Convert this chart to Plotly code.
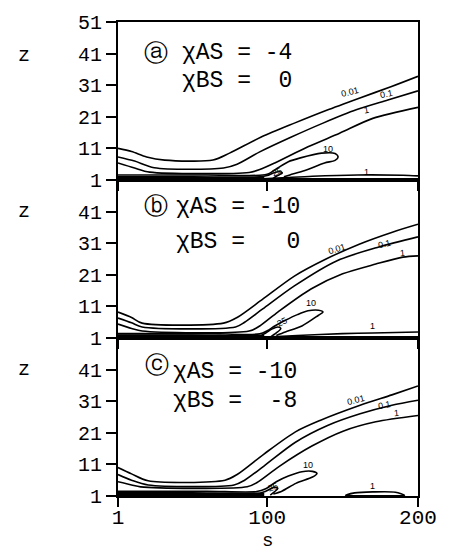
import plotly.graph_objects as go
from plotly.subplots import make_subplots

# ---------------- data (s, z) ----------------
panel_letters = ["ⓐ", "ⓑ", "ⓒ"]
chi_as = ["-4", "-10", "-10"]
chi_bs = ["0", "0", "-8"]
y_ticks_top = [1, 11, 21, 31, 41, 51]
y_ticks = [1, 11, 21, 31, 41]
x_ticks = [1, 100, 200]

# panel a
a_c001_s = [1, 10, 20, 32, 64, 75, 96, 118, 139, 161, 182, 200]
a_c001_z = [11, 10, 8.3, 7.3, 7.3, 9.5, 14.6, 19, 23, 26.9, 30.5, 33.8]
a_c01_s = [1, 12, 25, 71, 80, 95, 116, 137, 159, 180, 200]
a_c01_z = [8.3, 7, 4.9, 4.8, 6, 9.9, 14.6, 19, 23.2, 26.3, 29.2]
a_c1_s = [1, 12, 22, 88, 95, 105, 127, 148, 170, 200]
a_c1_z = [6.4, 4.8, 3.5, 3.4, 4.3, 6.4, 11.5, 15.8, 20.5, 24]
a_c10_s = [1, 60, 95, 101, 107, 114, 122, 136, 145, 147, 145, 138, 125, 115, 111]
a_c10_z = [2.6, 2.6, 2.5, 3, 4.8, 6.8, 8, 9.5, 9.4, 8.3, 7.2, 6.4, 4, 2.6, 2]
a_c25_s = [1, 50, 95, 100, 104, 108, 110, 106, 103]
a_c25_z = [2.0, 2.0, 2.0, 2.4, 3.2, 3.6, 3.2, 2.2, 1.2]
a_c1b_s = [97, 110, 130, 160, 190, 200]
a_c1b_z = [1.4, 1.7, 2.2, 2.6, 2.5, 2.3]
a_band_s = [1, 50, 98]
a_band_z = [1.45, 1.4, 1.3]

# panel b
b_c001_s = [1, 10, 17, 71, 80, 97, 118, 139, 161, 183, 200]
b_c001_z = [9.2, 7.5, 5.7, 5.7, 7.5, 13.3, 20.6, 26, 30.7, 34.5, 37]
b_c01_s = [1, 10, 17, 79, 85, 97, 118, 146, 174, 200]
b_c01_z = [7.3, 5.8, 4.5, 4.5, 6, 10.2, 17.5, 25.4, 29.8, 33]
b_c1_s = [1, 10, 17, 88, 95, 107, 129, 150, 172, 190, 200]
b_c1_z = [5.4, 4, 3.2, 3.2, 4.8, 9.2, 16.5, 21.3, 24.4, 26.6, 27]
b_c10_s = [1, 60, 95, 100, 105, 112, 120, 127, 134, 137, 134, 123, 112, 106]
b_c10_z = [2.4, 2.4, 2.3, 3.3, 4.8, 6.6, 8.4, 9.6, 9.8, 9.2, 8.2, 4.8, 2.9, 1.8]
b_c25_s = [1, 50, 96, 99, 103, 107, 109, 106, 102]
b_c25_z = [1.9, 1.9, 1.9, 2.6, 3.8, 4.5, 4.0, 2.6, 1.3]
b_c1b_s = [100, 120, 150, 170, 200]
b_c1b_z = [1.3, 1.8, 2.4, 2.6, 2.9]
b_band_s = [1, 50, 98]
b_band_z = [1.4, 1.4, 1.3]

# panel c
c_c001_s = [1, 10, 21, 72, 80, 97.6, 118.7, 135, 161.6, 182.7, 200]
c_c001_z = [10, 8, 5.8, 6, 7.8, 14.2, 21.3, 24.9, 29.7, 33, 35.8]
c_c01_s = [1, 10, 21, 78, 85, 97.6, 118.7, 140, 161.6, 182.7, 200]
c_c01_z = [7.8, 6, 4.5, 4.5, 6, 10.4, 18, 23.3, 27, 29.7, 31.3]
c_c1_s = [1, 10, 16, 86.7, 93, 108, 129.6, 150.7, 172, 200]
c_c1_z = [5.5, 4.5, 3.9, 3.9, 5.2, 10.4, 16.8, 21.6, 24.5, 26.5]
c_c10_s = [1, 60, 93, 99, 106, 114, 123, 130, 133, 130, 119, 110, 104]
c_c10_z = [2.5, 2.5, 2.4, 3.3, 5.5, 7.3, 8.7, 8.8, 8.1, 7.0, 5.0, 2.6, 1.6]
c_c25_s = [1, 50, 96, 99, 102, 105, 107, 105, 102]
c_c25_z = [2.0, 2.0, 2.0, 2.5, 3.2, 3.8, 3.4, 2.4, 1.3]
c_c1b_s = [152, 158, 170, 185, 191, 185, 170, 158, 152]
c_c1b_z = [1.2, 2.0, 2.3, 2.2, 1.2, 1.05, 1.05, 1.05, 1.2]
c_band_s = [1, 50, 98]
c_band_z = [1.45, 1.4, 1.3]

# contour label positions (s, z, text, angle)
a_lab = [(155, 29, "0.01", -14), (179, 28.3, "0.1", -12), (166, 23.2, "1", -10),
         (140, 10.8, "10", 0), (106.6, 3.6, "25", -20), (166, 3.6, "1", 0)]
b_lab = [(146, 29.2, "0.01", -18), (178, 30.9, "0.1", -14), (190, 27.8, "1", -5),
         (129, 12, "10", 0), (110, 6, "25", -25), (170, 4.8, "1", 0)]
c_lab = [(159, 31.4, "0.01", -14), (178, 29.8, "0.1", -10), (186, 27.2, "1", -5),
         (127, 10.8, "10", 0), (104, 3.8, "25", -20), (170, 4.3, "1", 0)]

panels = [
    [(a_c001_s, a_c001_z), (a_c01_s, a_c01_z), (a_c1_s, a_c1_z), (a_c10_s, a_c10_z),
     (a_c25_s, a_c25_z), (a_c1b_s, a_c1b_z)],
    [(b_c001_s, b_c001_z), (b_c01_s, b_c01_z), (b_c1_s, b_c1_z), (b_c10_s, b_c10_z),
     (b_c25_s, b_c25_z), (b_c1b_s, b_c1b_z)],
    [(c_c001_s, c_c001_z), (c_c01_s, c_c01_z), (c_c1_s, c_c1_z), (c_c10_s, c_c10_z),
     (c_c25_s, c_c25_z), (c_c1b_s, c_c1b_z)],
]
bands = [(a_band_s, a_band_z), (b_band_s, b_band_z), (c_band_s, c_band_z)]
labels = [a_lab, b_lab, c_lab]

# ---------------- figure ----------------
fig = make_subplots(rows=3, cols=1, shared_xaxes=True, vertical_spacing=0)

for i, curves in enumerate(panels):
    row = i + 1
    for s, z in curves:
        fig.add_trace(go.Scatter(x=s, y=z, mode="lines",
                                 line=dict(color="black", width=1.6, shape="spline", smoothing=0.8),
                                 showlegend=False, hoverinfo="skip"), row=row, col=1)
    bs, bz = bands[i]
    fig.add_trace(go.Scatter(x=bs, y=bz, mode="lines",
                             line=dict(color="black", width=4),
                             showlegend=False, hoverinfo="skip"), row=row, col=1)

mono = "Liberation Mono, Courier New, monospace"
axis_common = dict(showline=True, linecolor="black", linewidth=2, mirror=True,
                   ticks="outside", tickwidth=1.5, tickcolor="black",
                   showgrid=False, zeroline=False)

for i in range(3):
    row = i + 1
    yt = y_ticks_top if i == 0 else y_ticks
    fig.update_yaxes(range=[1, 51], tickvals=yt, ticktext=[str(v) for v in yt],
                     ticklen=10,
                     tickfont=dict(family=mono, size=20, color="black"),
                     row=row, col=1, **axis_common)
    fig.update_xaxes(range=[1, 200], tickvals=x_ticks, ticktext=[str(v) for v in x_ticks],
                     ticklen=9, ticklabelstandoff=-8,
                     tickfont=dict(family=mono, size=21, color="black"),
                     showticklabels=(i == 2),
                     row=row, col=1, **axis_common)

anns = []
letter_pos = [(26, 41.2), (26, 42.8), (27, 42.6)]
text_pos = [(42, 41.3, 32.3), (38, 42.6, 31.4), (36, 40.2, 31.2)]
z_pos = [40.5, 40.9, 41]
for i in range(3):
    xr = "x" if i == 0 else f"x{i+1}"
    yr = "y" if i == 0 else f"y{i+1}"
    lx, lz = letter_pos[i]
    anns.append(dict(x=lx, y=lz, xref=xr, yref=yr, text=panel_letters[i], showarrow=False,
                     font=dict(family="DejaVu Sans", size=24, color="black")))
    tx, tz1, tz2 = text_pos[i]
    w = len(chi_as[i])
    anns.append(dict(x=tx, y=tz1, xref=xr, yref=yr, xanchor="left",
                     text=f"χAS = {chi_as[i]}", showarrow=False,
                     font=dict(family=mono, size=23, color="black")))
    anns.append(dict(x=tx, y=tz2, xref=xr, yref=yr, xanchor="left",
                     text=f"χBS = {chi_bs[i].rjust(w)}".replace(" ", "\u00a0"), showarrow=False,
                     font=dict(family=mono, size=23, color="black")))
    anns.append(dict(x=-0.34, y=z_pos[i], xref="paper", yref=yr, text="z", showarrow=False,
                     font=dict(family=mono, size=20, color="black")))
    for s, z, t, ang in labels[i]:
        anns.append(dict(x=s, y=z, xref=xr, yref=yr, text=t, showarrow=False, textangle=ang,
                         font=dict(family="Liberation Sans", size=9, color="black")))

anns.append(dict(x=100, y=-0.094, xref="x3", yref="paper", text="s", showarrow=False,
                 yanchor="middle", borderpad=0,
                 font=dict(family=mono, size=19, color="black")))

fig.update_layout(width=449, height=553, margin=dict(l=118, r=21, t=22, b=57),
                  paper_bgcolor="white", plot_bgcolor="white", annotations=anns)

fig.write_html("out.html")
